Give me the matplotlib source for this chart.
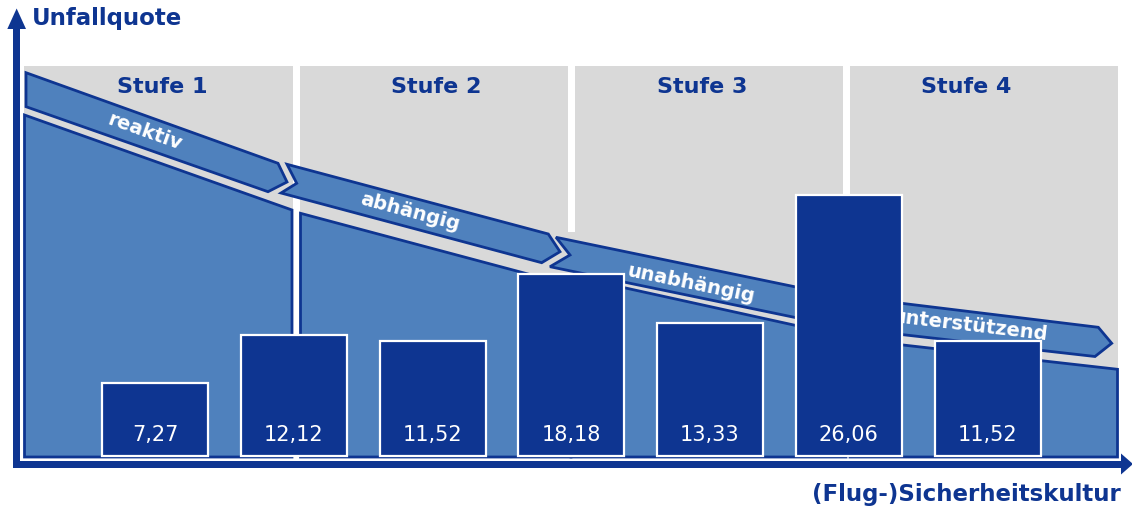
import matplotlib
matplotlib.use("Agg")
import matplotlib.pyplot as plt
from matplotlib.patches import Polygon, Rectangle
import numpy as np

# ---------------- data ----------------
bar_values = [7.27, 12.12, 11.52, 18.18, 13.33, 26.06, 11.52]
stage_labels = ["Stufe 1", "Stufe 2", "Stufe 3", "Stufe 4"]
culture_labels = ["reaktiv", "abhängig", "unabhängig", "unterstützend"]
y_title = "Unfallquote"
x_title = "(Flug-)Sicherheitskultur"

# ---------------- style ----------------
DARK = "#0E3591"
LIGHT = "#4F81BD"
GRAY = "#D9D9D9"
W, H = 1132, 508

fig = plt.figure(figsize=(W / 100, H / 100), dpi=100)
fig.patch.set_facecolor("white")

# background axes in pixel coordinates (y downwards)
bg = fig.add_axes([0, 0, 1, 1])
bg.set_xlim(0, W)
bg.set_ylim(H, 0)
bg.axis("off")

# gray stage panels
panels = [(24, 292.5), (300, 568), (575, 843), (850, 1118)]
for x0, x1 in panels:
    bg.add_patch(Rectangle((x0, 66), x1 - x0, 391, fc=GRAY, ec="none", zorder=1))
bg.add_patch(Rectangle((567, 232), 9, 225, fc=GRAY, ec="none", zorder=1))
bg.add_patch(Rectangle((842, 290), 9, 167, fc=GRAY, ec="none", zorder=1))

stage_pos = [(162.5, 87), (436, 87), (702, 87), (966, 87)]
for (x, y), s in zip(stage_pos, stage_labels):
    bg.text(x, y, s, ha="center", va="center", fontsize=16, fontweight="bold",
            color=DARK, family="DejaVu Sans", zorder=5)

# light-blue "mountain" areas
areas = [
    [(24.5, 115), (292, 210), (292, 457), (24.5, 457)],
    [(300.5, 213.3), (571, 285.5), (571, 457), (300.5, 457)],
    [(571, 276), (846, 336.5), (846, 457), (571, 457)],
    [(850, 339), (1117.5, 369.3), (1117.5, 457), (850, 457)],
]
for pts in areas:
    bg.add_patch(Polygon(pts, closed=True, fc=LIGHT, ec=DARK, lw=2.0,
                         joinstyle="miter", zorder=2))

# chevron arrows
arrows = [
    [(26, 72.7), (278, 163.3), (287, 182), (268, 191.7), (26, 106.7)],
    [(287, 164.3), (548.3, 234), (560, 251.7), (541.7, 262.7), (281, 193), (296.7, 183.3)],
    [(556, 237.3), (822, 292.4), (834, 309.5), (815, 321.6), (550, 266.7), (570, 255)],
    [(828, 294.3), (1098.3, 327.3), (1111.7, 343.3), (1095, 356.5), (822, 325.5), (840, 311)],
]
for pts in arrows:
    bg.add_patch(Polygon(pts, closed=True, fc=LIGHT, ec=DARK, lw=2.0,
                         joinstyle="miter", zorder=3))

arrow_text = [((145, 132), 0.357), ((410, 212), 0.267), ((691, 284), 0.207), ((970, 326), 0.118)]
for ((x, y), slope), s in zip(arrow_text, culture_labels):
    bg.text(x, y, s, ha="center", va="center", rotation=-np.degrees(np.arctan(slope)),
            rotation_mode="anchor", fontsize=14, fontweight="bold", color="white",
            family="DejaVu Sans", zorder=4)

# axes arrows
bg.add_patch(Rectangle((13.3, 26), 6.7, 442, fc=DARK, ec="none", zorder=6))
bg.add_patch(Polygon([(16.65, 8.5), (26, 29), (7.3, 29)], closed=True, fc=DARK, ec="none", zorder=6))
bg.add_patch(Rectangle((13.3, 460.5), 1110, 7, fc=DARK, ec="none", zorder=6))
bg.add_patch(Polygon([(1133, 464), (1121, 453.5), (1121, 474.5)], closed=True, fc=DARK, ec="none", zorder=6))

bg.text(32, 18, y_title, ha="left", va="center", fontsize=16.5, fontweight="bold",
        color=DARK, family="DejaVu Sans", zorder=6)
bg.text(1121, 494, x_title, ha="right", va="center", fontsize=16.5, fontweight="bold",
        color=DARK, family="DejaVu Sans", zorder=6)

# ---------------- bars (data axes) ----------------
ax = fig.add_axes([0, 0, 1, 1])
ax.patch.set_alpha(0)
ax.axis("off")
step = 138.75
ax.set_xlim(-155 / step, (W - 155) / step)
ax.set_ylim((456 - H) / 10.0, 456 / 10.0)

idx = np.arange(len(bar_values))
ax.bar(idx, bar_values, width=106 / step, color=DARK, edgecolor="white",
       linewidth=1.6, zorder=3)
for i, v in zip(idx, bar_values):
    ax.text(i, 2.1, f"{v:.2f}".replace(".", ","), ha="center", va="center",
            fontsize=15, color="white", family="DejaVu Sans", zorder=4)

fig.savefig("out.png", dpi=100, facecolor="white")
